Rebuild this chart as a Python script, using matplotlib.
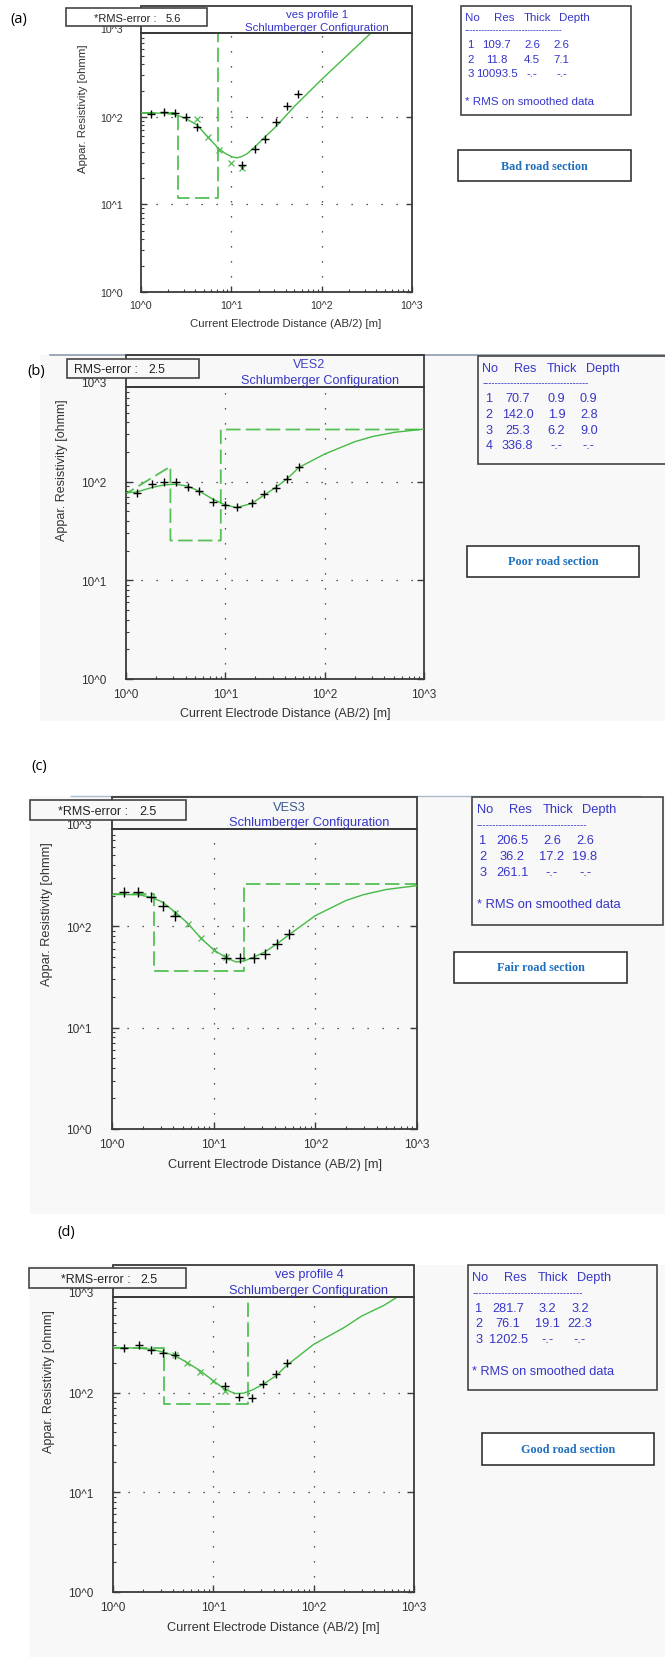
import matplotlib
matplotlib.use("Agg")
import matplotlib.pyplot as plt
from matplotlib.patches import Rectangle
from matplotlib.ticker import LogLocator, NullFormatter

W, H = 665, 1658

# ---- data ----
tags = ["(a)", "(b)", "(c)", "(d)"]
ves_names = ["ves profile 1", "VES2", "VES3", "ves profile 4"]
rms_labels = ["*RMS-error :", "RMS-error :", "*RMS-error :", "*RMS-error :"]
rms_values = ["5.6", "2.5", "2.5", "2.5"]
road_labels = ["Bad road section", "Poor road section", "Fair road section", "Good road section"]
notes = ["* RMS on smoothed data", "", "* RMS on smoothed data", "* RMS on smoothed data"]

# layer models
res_a = [109.7, 11.8, 10093.5]
thick_a = [2.6, 4.5]
depth_a = [2.6, 7.1]
res_b = [70.7, 142.0, 25.3, 336.8]
thick_b = [0.9, 1.9, 6.2]
depth_b = [0.9, 2.8, 9.0]
res_c = [206.5, 36.2, 261.1]
thick_c = [2.6, 17.2]
depth_c = [2.6, 19.8]
res_d = [281.7, 76.1, 1202.5]
thick_d = [3.2, 19.1]
depth_d = [3.2, 22.3]

# field data (+)
obs_x_a = [1.3, 1.8, 2.4, 3.12, 4.2, 13.0, 18.1, 23.8, 31.2, 41.7, 54.7]
obs_y_a = [108, 115, 112, 98.9, 77, 28.2, 43.2, 56.4, 87.3, 133, 181]
obs_x_b = [1.29, 1.81, 2.41, 3.16, 4.17, 5.47, 7.55, 10.0, 13.0, 18.4, 24.4, 32.0, 42.0, 55.4]
obs_y_b = [77.3, 94, 100, 100, 89, 80.3, 62.6, 58, 55.3, 60.2, 74.3, 86.9, 107, 141]
obs_x_c = [1.30, 1.80, 2.44, 3.15, 4.20, 13.2, 18.0, 24.7, 31.7, 42.0, 55.1]
obs_y_c = [216, 216, 196, 157, 127, 48.9, 48.9, 48.9, 53.5, 66.1, 82.8]
obs_x_d = [1.29, 1.82, 2.41, 3.15, 4.19, 13.0, 18.1, 24.4, 31.4, 42.0, 54.5]
obs_y_d = [282, 297, 267, 251, 238, 115, 91.2, 87.8, 121, 152, 200]

# smoothed data (x)
sm_x_a = [4.2, 5.47, 7.3, 10.0, 13.0]
sm_y_a = [94.6, 59.0, 42.1, 29.7, 26.0]
sm_x_b = []
sm_y_b = []
sm_x_c = [4.2, 5.55, 7.5, 10.0, 13.2]
sm_y_c = [135, 105, 76.2, 57.7, 50]
sm_x_d = [4.19, 5.47, 7.43, 10.0, 13.0]
sm_y_d = [236, 196, 161, 131, 104]

# fitted curves
fit_x_a = [1, 1.3, 1.8, 2.4, 3.12, 4.2, 5.47, 7.3, 8.5, 10, 11.5, 13, 15, 18, 24, 31, 50, 100, 200, 400, 1000]
fit_y_a = [112, 111, 110, 106, 96, 80.5, 59, 43, 38.5, 35.2, 34, 35.2, 38, 45, 60, 77, 132, 268, 525, 1030, 2500]
fit_x_b = [1, 1.29, 1.81, 2.41, 3.16, 4.17, 5.47, 7.55, 10, 13, 18.4, 24.4, 32, 42, 55, 100, 200, 300, 500, 1000]
fit_y_b = [77, 78.5, 86.9, 92.5, 94, 90, 80, 66, 58, 54.5, 60, 72.6, 87, 107, 139, 190, 253, 285, 315, 340]
fit_x_c = [1, 1.3, 1.8, 2.44, 3.15, 4.2, 5.55, 7.5, 10, 13.2, 16.6, 20, 24.7, 31.7, 42, 55, 100, 200, 300, 500, 1000]
fit_y_c = [205, 205, 204, 193, 172, 137, 107, 76, 58.5, 49, 44.3, 45.5, 49.5, 55.5, 67, 82.2, 127, 179, 205, 230, 251]
fit_x_d = [1, 1.29, 1.82, 2.41, 3.15, 4.19, 5.47, 7.43, 10, 13, 16.5, 20, 24.4, 31.4, 42, 54.5, 100, 200, 300, 500, 1000]
fit_y_d = [282, 282, 278, 271, 255, 233, 200, 165, 131, 108, 97.7, 98.5, 106, 121, 147, 189, 304, 447, 584, 747, 1150]

# ---- layout, in pixels from the top-left corner ----
layout = [
    dict(s=0.89, ax=(141, 412, 34, 293), top=7, rms=(66, 207, 9, 27), rms_t=(94, 166, 18.5),
         t1=(317, 15), t2=(317, 28), tag=(19, 19), table=(461, 631, 7, 116), road=(458, 631, 151, 182),
         bg=None, c1="#3434cc"),
    dict(s=0.98, ax=(126, 424, 388, 680), top=356, rms=(67, 199, 360, 379), rms_t=(74, 148, 370),
         t1=(309, 365), t2=(320, 381), tag=(36, 372), table=(478, 668, 357, 465), road=(467, 639, 547, 578),
         bg=(40, 356, 665, 722), c1="#4040c8"),
    dict(s=1.0, ax=(112, 417, 830, 1130), top=798, rms=(30, 186, 801, 821), rms_t=(58, 139, 812),
         t1=(289, 808), t2=(309.5, 823), tag=(39, 767), table=(472, 663, 798, 926), road=(454, 627, 953, 984),
         bg=(30, 797, 665, 1215), c1="#3b5a8e"),
    dict(s=0.99, ax=(113, 414, 1298, 1593), top=1266, rms=(29, 186, 1269, 1289), rms_t=(61, 140, 1280),
         t1=(309, 1275), t2=(308.5, 1291), tag=(66, 1233), table=(468, 657, 1266, 1391), road=(482, 654, 1434, 1466),
         bg=(29, 1266, 665, 1658), c1="#3434cc"),
]

SANS = ["Liberation Sans", "DejaVu Sans"]
BLUE = "#3636c8"
EDGE = "#3a3a3a"
BG = "#f8f8f8"
GREEN = "#44bb44"
YTOP = 10 ** 2.958

fig = plt.figure(figsize=(W / 100, H / 100), dpi=100)


def fx(x):
    return x / W


def fy(y):
    return 1 - y / H


def box(x0, y0, x1, y1, **kw):
    fig.add_artist(Rectangle((fx(x0), fy(y1)), (x1 - x0) / W, (y1 - y0) / H,
                             transform=fig.transFigure, **kw))


def ftext(x, y, s, **kw):
    kw.setdefault("va", "center")
    kw.setdefault("family", SANS)
    kw.setdefault("zorder", 5)
    fig.text(fx(x), fy(y), s, **kw)


def model_line(res, depth, x_end=1000.0):
    xs, ys = [1.0], [res[0]]
    for i, d in enumerate(depth):
        if d < 1.0:
            # boundary left of the plotted range: the program joins to the next corner directly
            xs, ys = [d], [res[i]]
            continue
        xs += [d, d]
        ys += [res[i], res[i + 1]]
    xs.append(x_end)
    ys.append(res[-1])
    return xs, ys


panels = [
    (res_a, thick_a, depth_a, obs_x_a, obs_y_a, sm_x_a, sm_y_a, fit_x_a, fit_y_a),
    (res_b, thick_b, depth_b, obs_x_b, obs_y_b, sm_x_b, sm_y_b, fit_x_b, fit_y_b),
    (res_c, thick_c, depth_c, obs_x_c, obs_y_c, sm_x_c, sm_y_c, fit_x_c, fit_y_c),
    (res_d, thick_d, depth_d, obs_x_d, obs_y_d, sm_x_d, sm_y_d, fit_x_d, fit_y_d),
]

for k, (res, thick, depth, ox, oy, sx, sy, cx, cy) in enumerate(panels):
    L = layout[k]
    s = L["s"]
    x0, x1, ytop, ybot = L["ax"]

    if L["bg"]:
        bx0, by0, bx1, by1 = L["bg"]
        box(bx0, by0, bx1, by1, fc=BG, ec="none", zorder=-5)
    fill = BG if L["bg"] else "white"

    ax = fig.add_axes([fx(x0), fy(ybot), (x1 - x0) / W, (ybot - ytop) / H])
    ax.set_facecolor("none")
    ax.set_xscale("log")
    ax.set_yscale("log")
    ax.set_xlim(1, 1000)
    ax.set_ylim(1, YTOP)

    for v in (10, 100):
        ax.axvline(v, color="#222222", lw=0.9, ls=(0, (1, 11)), zorder=1)
        ax.axhline(v, color="#222222", lw=0.9, ls=(0, (1, 11)), zorder=1)

    mx, my = model_line(res, depth)
    ax.plot(mx, my, color="#55c055", lw=1.3, dashes=(8, 3), zorder=2)
    ax.plot(cx, cy, color=GREEN, lw=1.0, zorder=3)
    if sx:
        ax.plot(sx, sy, "x", color="#55bb55", ms=4.5 * s, mew=0.9, zorder=4)
    ax.plot(ox, oy, "+", color="black", ms=6.5 * s, mew=1.0, zorder=5)

    ax.set_xticks([1, 10, 100, 1000], ["10^0", "10^1", "10^2", "10^3"])
    ax.set_yticks([1, 10, 100], ["10^0", "10^1", "10^2"])
    ax.xaxis.set_minor_locator(LogLocator(base=10, subs=range(2, 10)))
    ax.yaxis.set_minor_locator(LogLocator(base=10, subs=range(2, 10)))
    ax.xaxis.set_minor_formatter(NullFormatter())
    ax.yaxis.set_minor_formatter(NullFormatter())
    ax.tick_params(which="both", direction="in", top=False, right=True, color=EDGE,
                   labelcolor="#333333", labelsize=8.6 * s)
    ax.tick_params(which="major", length=5 * s, width=1)
    ax.tick_params(which="minor", length=2.5 * s, width=0.8, right=False)
    ax.tick_params(axis="y", pad=14.4 * s)
    ax.tick_params(axis="x", pad=6.5 * s)
    for lab in ax.get_xticklabels() + ax.get_yticklabels():
        lab.set_family(SANS)
    for sp in ax.spines.values():
        sp.set_color(EDGE)
        sp.set_linewidth(1.3)
    ax.annotate("10^3", xy=(0, 1000), xycoords=("axes fraction", "data"), xytext=(-14.4 * s, 0),
                textcoords="offset points", ha="right", va="center", fontsize=8.6 * s,
                color="#333333", family=SANS, annotation_clip=False)

    ftext((x0 + x1) / 2 + 10 * s, ybot + 35 * s, "Current Electrode Distance (AB/2) [m]",
          ha="center", fontsize=9.2 * s, color="#333333")
    ftext(x0 - 65 * s, ytop + 84 * s, "Appar. Resistivity [ohmm]", ha="center",
          rotation=90, fontsize=9.2 * s, color="#333333")

    # title box and titles
    box(x0, L["top"], x1, ytop, fill=False, ec=EDGE, lw=1.3, zorder=2)
    ftext(L["t1"][0], L["t1"][1], ves_names[k], ha="center", fontsize=9.3 * s, color=L["c1"])
    ftext(L["t2"][0], L["t2"][1], "Schlumberger Configuration", ha="center",
          fontsize=9.3 * s, color=BLUE)

    # rms box
    rx0, rx1, ry0, ry1 = L["rms"]
    box(rx0, ry0, rx1, ry1, fc=fill, ec="#444444", lw=1.2, zorder=4)
    ftext(L["rms_t"][0], L["rms_t"][2], rms_labels[k], ha="left", fontsize=9 * s, color="#222222")
    ftext(L["rms_t"][1], L["rms_t"][2], rms_values[k], ha="left", fontsize=9 * s, color="#222222")

    ftext(L["tag"][0], L["tag"][1], tags[k], ha="center", fontsize=10.5,
          family=["Open Sans", "DejaVu Sans"], color="black")

    # layer table
    tx0, tx1, ty0, ty1 = L["table"]
    box(tx0, ty0, tx1, ty1, fc=fill, ec="#444444", lw=1.2, zorder=2)
    fs = 9.3 * s
    hy = ty0 + 12 * s
    ftext(tx0 + 4.5 * s, hy, "No", ha="left", fontsize=fs, color=BLUE)
    for off, h in [(48, "Res"), (86, "Thick"), (127.5, "Depth")]:
        ftext(tx0 + off * s, hy, h, ha="center", fontsize=fs, color=BLUE)
    ftext(tx0 + 4.5 * s, ty0 + 27 * s, "-" * 34, ha="left", fontsize=7 * s, color=BLUE)
    for i, r in enumerate(res):
        ry = ty0 + (43 + 16 * i) * s
        th = f"{thick[i]:.1f}" if i < len(thick) else "-.-"
        dp = f"{depth[i]:.1f}" if i < len(depth) else "-.-"
        for off, t in [(11, str(i + 1)), (40.5, f"{r:.1f}"), (80, th), (113, dp)]:
            ftext(tx0 + off * s, ry, t, ha="center", fontsize=fs, color=BLUE)
    if notes[k]:
        ftext(tx0 + 4.5 * s, ty0 + 107 * s, notes[k], ha="left", fontsize=fs, color=BLUE)

    # road condition box
    qx0, qx1, qy0, qy1 = L["road"]
    box(qx0, qy0, qx1, qy1, fc="white", ec="#333333", lw=1.2, zorder=2)
    ftext((qx0 + qx1) / 2, (qy0 + qy1) / 2, road_labels[k], ha="center", fontsize=8.7,
          family=["Liberation Serif", "DejaVu Serif"], weight="bold", color="#1f6fbf")

# separator lines copied from the screenshots
fig.add_artist(plt.Line2D([fx(50), fx(665)], [fy(356), fy(356)], transform=fig.transFigure,
                          color="#8c9bab", lw=1.2, zorder=1))
fig.add_artist(plt.Line2D([fx(71), fx(640)], [fy(797), fy(797)], transform=fig.transFigure,
                          color="#a9bccf", lw=1.0, zorder=1))

fig.savefig("out.png", dpi=100)
